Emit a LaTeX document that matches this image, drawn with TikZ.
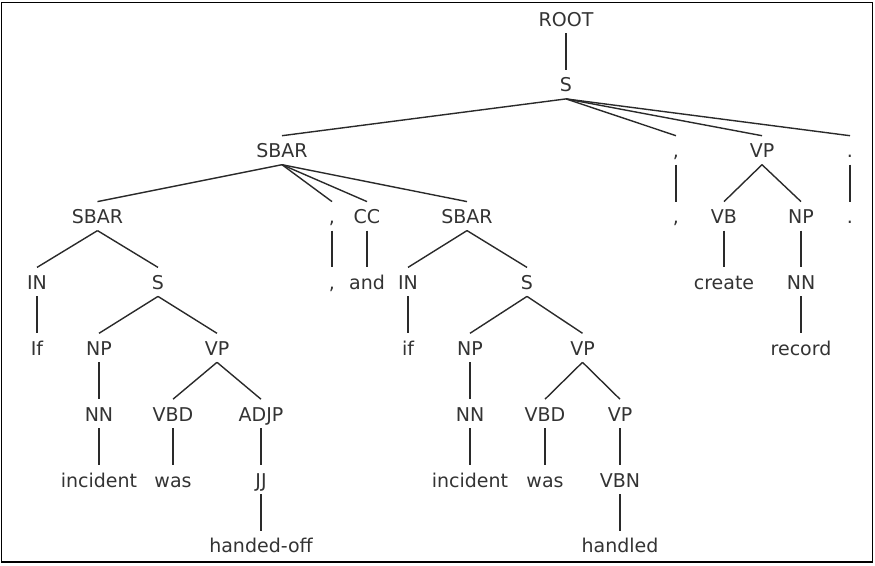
\documentclass[tikz,border=0pt]{standalone}
\usepackage{fontspec}
\setmainfont{DejaVu Sans}
\definecolor{txt}{HTML}{333333}
\definecolor{ln}{HTML}{2A2A2A}
\begin{document}
\begin{tikzpicture}[x=1pt,y=1pt,
  lab/.style={anchor=base,inner sep=0pt,outer sep=0pt,text=txt,font=\fontsize{19}{23}\selectfont},
  edge/.style={draw=ln,line width=1.4pt},
  frame/.style={draw=black,line width=1.8pt}]
\useasboundingbox (0,0) rectangle (875,-565);
\draw[frame] (1.5,-2.5) rectangle (872.5,-562);
\newcommand{\tedge}[2]{\draw[edge] ([yshift=-7pt]#1.base) -- ([yshift=22pt]#2.base);}
% rows baselines
\def\ra{-26}\def\rb{-91.9}\def\rc{-157.7}\def\rd{-223.6}\def\re{-289.4}
\def\rf{-355.3}\def\rg{-421.2}\def\rh{-487}\def\ri{-552.9}
% row 0-1
\node[lab] (root) at (566,\ra) {ROOT};
\node[lab] (s) at (566,\rb) {S};
% row 2
\node[lab] (sbar) at (282,\rc) {SBAR};
\node[lab] (cma1) at (676,\rc) {,};
\node[lab] (vp) at (762,\rc) {VP};
\node[lab] (prd) at (850,\rc) {.};
% row 3
\node[lab] (sbarL) at (97.5,\rd) {SBAR};
\node[lab] (cma2) at (332,\rd) {,};
\node[lab] (cc) at (367,\rd) {CC};
\node[lab] (sbarR) at (467,\rd) {SBAR};
\node[lab] (cma1w) at (676,\rd) {,};
\node[lab] (vb) at (724,\rd) {VB};
\node[lab] (np) at (801,\rd) {NP};
\node[lab] (prdw) at (850,\rd) {.};
% row 4
\node[lab] (inL) at (37,\re) {IN};
\node[lab] (sL) at (158,\re) {S};
\node[lab] (cma2w) at (332,\re) {,};
\node[lab] (andw) at (367,\re) {and};
\node[lab] (inR) at (408,\re) {IN};
\node[lab] (sR) at (527,\re) {S};
\node[lab] (create) at (724,\re) {create};
\node[lab] (nn) at (801,\re) {NN};
% row 5
\node[lab] (ifL) at (37,\rf) {If};
\node[lab] (npL) at (99,\rf) {NP};
\node[lab] (vpL) at (217,\rf) {VP};
\node[lab] (ifR) at (408,\rf) {if};
\node[lab] (npR) at (470,\rf) {NP};
\node[lab] (vpR) at (582.5,\rf) {VP};
\node[lab] (record) at (801,\rf) {record};
% row 6
\node[lab] (nnL) at (99,\rg) {NN};
\node[lab] (vbdL) at (173,\rg) {VBD};
\node[lab] (adjp) at (261,\rg) {ADJP};
\node[lab] (nnR) at (470,\rg) {NN};
\node[lab] (vbdR) at (545,\rg) {VBD};
\node[lab] (vpT) at (620,\rg) {VP};
% row 7
\node[lab] (incL) at (99,\rh) {incident};
\node[lab] (wasL) at (173,\rh) {was};
\node[lab] (jj) at (261,\rh) {JJ};
\node[lab] (incR) at (470,\rh) {incident};
\node[lab] (wasR) at (545,\rh) {was};
\node[lab] (vbn) at (620,\rh) {VBN};
% row 8
\node[lab] (handoff) at (261,\ri) {handed-off};
\node[lab] (handled) at (620,\ri) {handled};
% edges
\tedge{root}{s}
\tedge{s}{sbar}\tedge{s}{cma1}\tedge{s}{vp}\tedge{s}{prd}
\tedge{sbar}{sbarL}\tedge{sbar}{cma2}\tedge{sbar}{cc}\tedge{sbar}{sbarR}
\tedge{cma1}{cma1w}\tedge{vp}{vb}\tedge{vp}{np}\tedge{prd}{prdw}
\tedge{sbarL}{inL}\tedge{sbarL}{sL}\tedge{cma2}{cma2w}\tedge{cc}{andw}
\tedge{sbarR}{inR}\tedge{sbarR}{sR}\tedge{vb}{create}\tedge{np}{nn}
\tedge{inL}{ifL}\tedge{sL}{npL}\tedge{sL}{vpL}
\tedge{inR}{ifR}\tedge{sR}{npR}\tedge{sR}{vpR}\tedge{nn}{record}
\tedge{npL}{nnL}\tedge{vpL}{vbdL}\tedge{vpL}{adjp}
\tedge{npR}{nnR}\tedge{vpR}{vbdR}\tedge{vpR}{vpT}
\tedge{nnL}{incL}\tedge{vbdL}{wasL}\tedge{adjp}{jj}
\tedge{nnR}{incR}\tedge{vbdR}{wasR}\tedge{vpT}{vbn}
\tedge{jj}{handoff}\tedge{vbn}{handled}
\end{tikzpicture}
\end{document}
